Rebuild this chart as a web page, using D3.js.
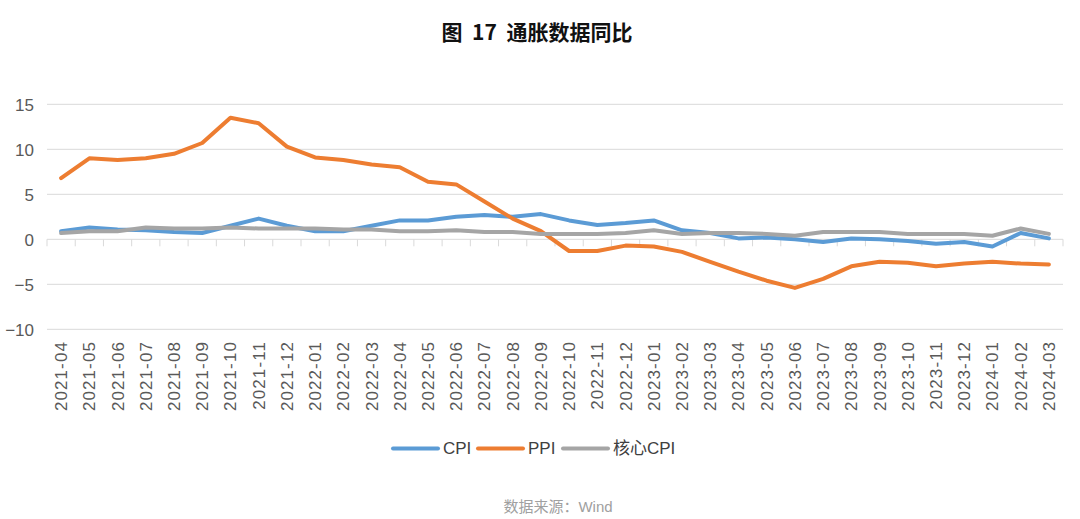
<!DOCTYPE html>
<html><head><meta charset="utf-8">
<script src="https://cdn.jsdelivr.net/npm/d3@7"></script>
<style>
html,body{margin:0;padding:0;background:#fff;}
svg text{font-family:"Liberation Sans",Arial,sans-serif;}
</style></head>
<body><svg id="c" width="1080" height="519"></svg>
<script>
const categories = ["2021-04","2021-05","2021-06","2021-07","2021-08","2021-09","2021-10","2021-11","2021-12",
"2022-01","2022-02","2022-03","2022-04","2022-05","2022-06","2022-07","2022-08","2022-09","2022-10","2022-11","2022-12",
"2023-01","2023-02","2023-03","2023-04","2023-05","2023-06","2023-07","2023-08","2023-09","2023-10","2023-11","2023-12",
"2024-01","2024-02","2024-03"];
const cpi = [0.9,1.3,1.1,1.0,0.8,0.7,1.5,2.3,1.5,0.9,0.9,1.5,2.1,2.1,2.5,2.7,2.5,2.8,2.1,1.6,1.8,2.1,1.0,0.7,0.1,0.2,0.0,-0.3,0.1,0.0,-0.2,-0.5,-0.3,-0.8,0.7,0.1];
const ppi = [6.8,9.0,8.8,9.0,9.5,10.7,13.5,12.9,10.3,9.1,8.8,8.3,8.0,6.4,6.1,4.2,2.3,0.9,-1.3,-1.3,-0.7,-0.8,-1.4,-2.5,-3.6,-4.6,-5.4,-4.4,-3.0,-2.5,-2.6,-3.0,-2.7,-2.5,-2.7,-2.8];
const coreCpi = [0.7,0.9,0.9,1.3,1.2,1.2,1.3,1.2,1.2,1.2,1.1,1.1,0.9,0.9,1.0,0.8,0.8,0.6,0.6,0.6,0.7,1.0,0.6,0.7,0.7,0.6,0.4,0.8,0.8,0.8,0.6,0.6,0.6,0.4,1.2,0.6];
const yTicks = [-10,-5,0,5,10,15];
const seriesNames = ["CPI","PPI","核心CPI"];
const colors = ["#5B9BD5","#ED7D31","#A5A5A5"];
const title = "图  17  通胀数据同比";
const source = "数据来源：Wind";

const svg = d3.select("#c");
const x = d3.scaleBand().domain(categories).range([47, 1063]);
const y = d3.scaleLinear().domain([-10, 15]).range([329.3, 104.3]);

// title
svg.append("text").attr("x", 537).attr("y", 40).attr("text-anchor","middle")
  .attr("font-size", 21).attr("font-weight","bold").attr("fill","#111")
  .style("white-space","pre")
  .style("font-family","'Noto Sans CJK SC',sans-serif").text(title);

// gridlines
svg.append("g").selectAll("line").data(yTicks.filter(d=>d!==0)).join("line")
  .attr("x1",47).attr("x2",1063).attr("y1",d=>y(d)).attr("y2",d=>y(d))
  .attr("stroke","#d9d9d9").attr("stroke-width",1);

// y axis labels
const yAxis = d3.axisLeft(y).tickValues(yTicks).tickSize(0).tickPadding(0).tickFormat(d3.format("d"));
const yg = svg.append("g").attr("transform","translate(34,0)").call(yAxis);
yg.select(".domain").remove();
yg.selectAll("text").attr("font-size",17).attr("fill","#595959").attr("dy","0.35em")
  .style("font-family","'Liberation Sans',Arial,sans-serif");

// zero axis line with ticks between categories
const y0 = y(0);
svg.append("line").attr("x1",47).attr("x2",1063).attr("y1",y0).attr("y2",y0)
  .attr("stroke","#d9d9d9").attr("stroke-width",1);
const bounds = categories.map(c=>x(c)).concat([x(categories[categories.length-1])+x.bandwidth()]);
svg.append("g").selectAll("line").data(bounds).join("line")
  .attr("x1",d=>d).attr("x2",d=>d).attr("y1",y0).attr("y2",y0+7)
  .attr("stroke","#d9d9d9").attr("stroke-width",1);

// x labels at bottom, rotated
const xAxis = d3.axisBottom(x).tickSize(0).tickPadding(0);
const xg = svg.append("g").attr("transform","translate(0,341)").call(xAxis);
xg.select(".domain").remove();
xg.selectAll("text").attr("font-size",17).attr("fill","#595959")
  .style("letter-spacing","1.1px")
  .attr("transform","rotate(-90)").attr("text-anchor","end")
  .attr("x",0).attr("y",0).attr("dx",0).attr("dy","0.35em");

// lines
const allSeries = [cpi, ppi, coreCpi];
const line = d3.line().x((d,i)=>x(categories[i])+x.bandwidth()/2).y(d=>y(d));
allSeries.forEach((s,k)=>{
  svg.append("path").datum(s).attr("d",line).attr("fill","none")
    .attr("stroke",colors[k]).attr("stroke-width",4).attr("stroke-linejoin","round").attr("stroke-linecap","round");
});

// legend
const legendX = [393, 478, 563];
const lg = svg.append("g");
seriesNames.forEach((n,k)=>{
  lg.append("line").attr("x1",legendX[k]).attr("x2",legendX[k]+45).attr("y1",448.5).attr("y2",448.5)
    .attr("stroke",colors[k]).attr("stroke-width",4).attr("stroke-linecap","round");
  lg.append("text").attr("x",legendX[k]+50).attr("y",448.5).attr("dy","0.35em")
    .attr("font-size",17).attr("fill","#404040")
    .style("font-family","'Liberation Sans','Noto Sans CJK SC',sans-serif").text(n);
});

// source
svg.append("text").attr("x",558).attr("y",507).attr("dy","0.35em").attr("text-anchor","middle")
  .attr("font-size",15).attr("fill","#a0a0a0")
  .style("font-family","'Liberation Sans','Noto Sans CJK SC',sans-serif").text(source);
</script></body></html>
